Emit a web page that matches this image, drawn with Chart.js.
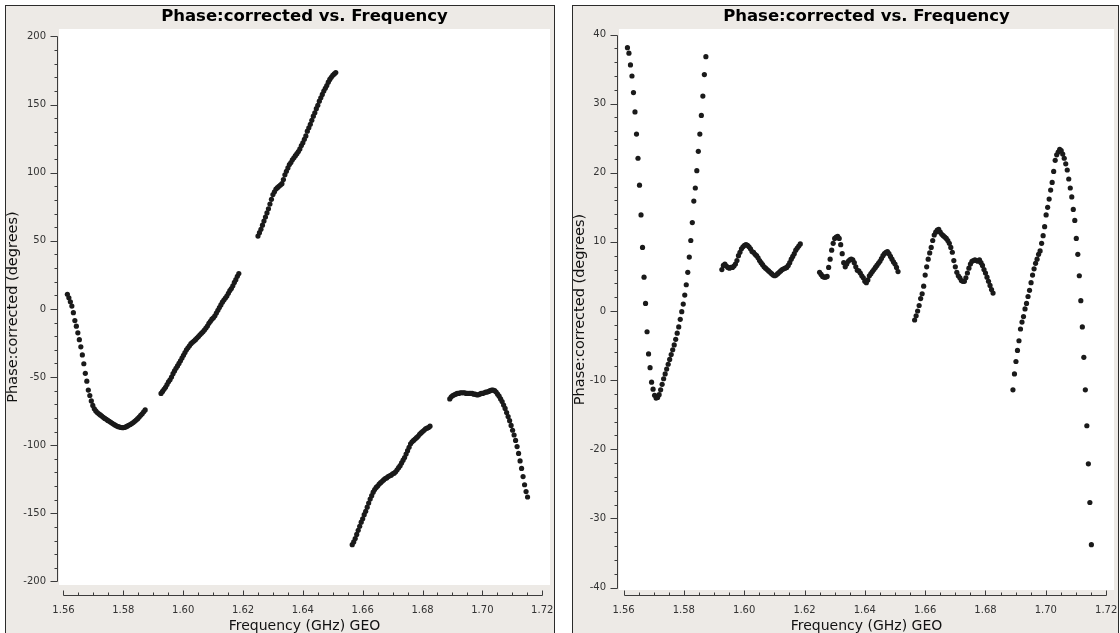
<!DOCTYPE html>
<html>
<head>
<meta charset="utf-8">
<title>Phase:corrected vs. Frequency</title>
<script src="https://cdn.jsdelivr.net/npm/chart.js@4/dist/chart.umd.min.js"></script>
<style>
  html, body { margin: 0; padding: 0; background: #fff; }
  body { width: 1120px; height: 633px; position: relative; overflow: hidden; }
  .panel { position: absolute; top: 5px; height: 627px; background: #edeae6;
           border: 1px solid #2b2b2b; border-bottom: none; overflow: hidden; }
  #panelA { left: 5px; width: 548px; }
  #panelB { left: 572px; width: 545px; }
  .panel canvas { display: block; }
</style>
</head>
<body>
<div class="panel" id="panelA"><canvas id="phaseA" width="548" height="627"></canvas></div>
<div class="panel" id="panelB"><canvas id="phaseB" width="545" height="627"></canvas></div>
<script>
// channel frequencies (GHz), one array per spectral window
const freq0 = [1.5613,1.5618,1.5623,1.5628,1.5633,1.5638,1.5643,1.5648,1.5653,1.5658,1.5663,1.5668,1.5673,1.5678,1.5683,1.5688,1.5693,1.5698,1.5703,1.5708,1.5713,1.5718,1.5723,1.5728,1.5733,1.5738,1.5743,1.5748,1.5753,1.5758,1.5763,1.5768,1.5773,1.5778,1.5783,1.5788,1.5793,1.5798,1.5803,1.5808,1.5813,1.5818,1.5823,1.5828,1.5833,1.5838,1.5843,1.5848,1.5853,1.5858,1.5863,1.5868,1.5873];
const freq1 = [1.5926,1.5931,1.5936,1.5941,1.5946,1.5951,1.5956,1.5961,1.5966,1.5971,1.5976,1.5981,1.5986,1.5991,1.5996,1.6001,1.6006,1.6011,1.6016,1.6021,1.6026,1.6031,1.6036,1.6041,1.6046,1.6051,1.6056,1.6061,1.6066,1.6071,1.6076,1.6081,1.6086,1.6091,1.6096,1.6101,1.6106,1.6111,1.6116,1.6121,1.6126,1.6131,1.6136,1.6141,1.6146,1.6151,1.6156,1.6161,1.6166,1.6171,1.6176,1.6181,1.6186];
const freq2 = [1.6250,1.6255,1.6260,1.6265,1.6270,1.6275,1.6280,1.6285,1.6290,1.6295,1.6300,1.6305,1.6310,1.6315,1.6320,1.6325,1.6330,1.6335,1.6340,1.6345,1.6350,1.6355,1.6360,1.6365,1.6370,1.6375,1.6380,1.6385,1.6390,1.6395,1.6400,1.6405,1.6410,1.6415,1.6420,1.6425,1.6430,1.6435,1.6440,1.6445,1.6450,1.6455,1.6460,1.6465,1.6470,1.6475,1.6480,1.6485,1.6490,1.6495,1.6500,1.6505,1.6510];
const freq3 = [1.6565,1.6570,1.6575,1.6580,1.6585,1.6590,1.6595,1.6600,1.6605,1.6610,1.6615,1.6620,1.6625,1.6630,1.6635,1.6640,1.6645,1.6650,1.6655,1.6660,1.6665,1.6670,1.6675,1.6680,1.6685,1.6690,1.6695,1.6700,1.6705,1.6710,1.6715,1.6720,1.6725,1.6730,1.6735,1.6740,1.6745,1.6750,1.6755,1.6760,1.6765,1.6770,1.6775,1.6780,1.6785,1.6790,1.6795,1.6800,1.6805,1.6810,1.6815,1.6820,1.6825];
const freq4 = [1.6891,1.6896,1.6901,1.6906,1.6911,1.6916,1.6921,1.6926,1.6931,1.6936,1.6941,1.6946,1.6951,1.6956,1.6961,1.6966,1.6971,1.6976,1.6981,1.6986,1.6991,1.6996,1.7001,1.7006,1.7011,1.7016,1.7021,1.7026,1.7031,1.7036,1.7041,1.7046,1.7051,1.7056,1.7061,1.7066,1.7071,1.7076,1.7081,1.7086,1.7091,1.7096,1.7101,1.7106,1.7111,1.7116,1.7121,1.7126,1.7131,1.7136,1.7141,1.7146,1.7151];

// corrected phase (degrees), left plot
const phaseA0 = [10.8,8.2,5.3,2.1,-2.7,-8.5,-12.6,-17.5,-22.5,-27.8,-33.7,-40.2,-47.2,-53,-59.5,-63.5,-67.5,-70.8,-73.3,-74.8,-76,-76.9,-77.8,-78.6,-79.5,-80.3,-81,-81.8,-82.5,-83.2,-83.9,-84.6,-85.3,-85.9,-86.4,-86.7,-87,-87.1,-87,-86.6,-86,-85.4,-84.8,-84.1,-83.4,-82.5,-81.5,-80.5,-79.3,-78,-76.9,-75.5,-74.1];
const phaseA1 = [-62,-60.5,-59,-57.5,-55.5,-53.5,-52,-50,-47.5,-45.5,-43.5,-41.8,-40,-38,-36,-34,-32,-30,-28.5,-27,-25.5,-24.5,-23.5,-22.5,-21.3,-20.2,-19,-17.8,-16.8,-15.5,-14,-12.5,-10.5,-9,-7.5,-6.5,-5,-3,-1,1,3,5,6.5,8,9.5,11.5,13.5,15,17,19.5,21.5,24,26];
const phaseA2 = [53.5,56,58.5,61.5,64.5,67.5,70.5,73.5,77,80.5,84,86,88,89,90,91,92,95,98.5,101,103.5,106,107.5,109.5,111,112.5,114,115.5,117.5,120,122,124.5,127,130.5,133,135.5,138.5,141.5,144,147,149.5,152.5,155,157.5,160,162,164,166.5,168.5,170,171.5,172.5,173.5];
const phaseA3 = [-173,-171,-168.5,-165.5,-162.5,-159.5,-156.5,-154,-151,-148.5,-145.5,-142.5,-139.5,-137,-134.5,-132.5,-131,-130,-128.5,-127.5,-126.5,-125.5,-124.5,-124,-123,-122.5,-122,-121,-120.5,-119.5,-118,-116.5,-115,-113,-111,-109,-106.5,-104,-101.5,-99,-97.5,-96.5,-95.5,-94.5,-93.5,-92,-91,-90,-89,-88,-87.5,-87,-86];
const phaseA4 = [-66,-64.5,-63.5,-63,-62.5,-62,-62,-61.5,-61.5,-61.5,-61.5,-62,-62,-62,-62,-62,-62.5,-62.5,-63,-63,-62.5,-62,-62,-61.5,-61,-61,-60.5,-60,-59.5,-59.5,-60,-61,-62.5,-64,-66,-68,-70.5,-73,-76,-79,-82,-85.5,-89,-92.5,-96.5,-101,-106,-111.5,-117,-123,-129,-134,-138];

// corrected phase (degrees), right plot
const phaseB0 = [38.1,37.3,35.6,34.0,31.6,28.8,25.6,22.1,18.2,13.9,9.2,4.9,1.1,-3.0,-6.2,-8.2,-10.3,-11.3,-12.2,-12.6,-12.5,-12.1,-11.4,-10.6,-9.8,-9.1,-8.4,-7.7,-7.0,-6.3,-5.6,-4.9,-4.1,-3.2,-2.3,-1.2,-0.1,1.0,2.3,3.8,5.6,7.8,10.2,12.8,15.9,17.8,20.3,23.1,25.6,28.3,31.1,34.2,36.8];
const phaseB1 = [6.0,6.6,6.8,6.5,6.3,6.2,6.3,6.3,6.5,6.8,7.3,8.0,8.5,9.0,9.3,9.5,9.6,9.5,9.3,9.0,8.6,8.5,8.2,8.0,7.7,7.3,7.0,6.7,6.4,6.2,6.0,5.8,5.6,5.4,5.2,5.1,5.2,5.4,5.6,5.8,6.0,6.1,6.2,6.3,6.6,7.0,7.5,7.9,8.3,8.8,9.1,9.4,9.7];
const phaseB2 = [5.6,5.3,5.0,4.9,4.9,5.0,6.3,7.5,8.8,9.8,10.5,10.7,10.8,10.5,9.6,8.3,7.0,6.4,6.8,7.2,7.4,7.5,7.4,7.0,6.4,5.9,5.8,5.5,5.1,4.8,4.3,4.1,4.5,5.1,5.4,5.7,6.0,6.3,6.6,6.9,7.2,7.6,8.0,8.3,8.5,8.6,8.3,7.9,7.5,7.1,6.8,6.3,5.7];
const phaseB3 = [-1.3,-0.7,0.0,0.8,1.8,2.5,3.6,5.2,6.4,7.5,8.4,9.2,10.2,11.0,11.4,11.7,11.8,11.4,11.1,10.9,10.7,10.5,10.2,9.8,9.2,8.5,7.3,6.4,5.6,5.1,4.8,4.4,4.3,4.3,4.8,5.5,6.2,6.8,7.2,7.3,7.4,7.3,7.2,7.4,7.0,6.6,6.0,5.5,4.9,4.3,3.7,3.1,2.6];
const phaseB4 = [-11.4,-9.1,-7.3,-5.7,-4.3,-2.6,-1.6,-0.8,0.3,1.1,2.1,3.0,4.1,5.2,6.1,6.9,7.5,8.2,8.7,9.8,10.9,12.2,13.9,15.0,16.2,17.5,18.6,20.2,21.8,22.6,23.0,23.4,23.2,22.7,22.1,21.3,20.4,19.1,17.8,16.5,14.7,13.1,10.5,8.2,5.1,1.5,-2.3,-6.7,-11.4,-16.6,-22.1,-27.7,-33.8];

// axis labels
const xTicks = [1.56, 1.58, 1.60, 1.62, 1.64, 1.66, 1.68, 1.70, 1.72];
const yTicksA = [-200, -150, -100, -50, 0, 50, 100, 150, 200];
const yTicksB = [-40, -30, -20, -10, 0, 10, 20, 30, 40];

const freqs = [freq0, freq1, freq2, freq3, freq4];

function toPoints(phases) {
    const pts = [];
    freqs.forEach(function (f, s) {
        f.forEach(function (v, i) { pts.push({ x: v, y: phases[s][i] }); });
    });
    return pts;
}

// keep the plot field fixed: no extra room for overhanging end labels
function noOverhang(s) {
    s.paddingLeft = 0;
    s.paddingRight = 0;
    s.paddingTop = 0;
    s.paddingBottom = 0;
}

// white plot field plus plotms-style axes: ticks pointing outward,
// the frequency axis sits a little below the plot field
const plotAxes = {
    id: 'plotAxes',
    beforeDraw(chart) {
        const { ctx, chartArea: a } = chart;
        ctx.save();
        ctx.fillStyle = '#ffffff';
        ctx.fillRect(a.left, a.top, a.right - a.left, a.bottom - a.top);
        ctx.restore();
    },
    afterDraw(chart, args, opts) {
        const { ctx, chartArea: a, scales: { x, y } } = chart;
        ctx.save();
        ctx.strokeStyle = '#3c3c3c';
        ctx.lineWidth = 1;
        ctx.beginPath();

        const yt = opts.yTicks;
        const ax = Math.round(a.left) - 1.5;
        ctx.moveTo(ax, Math.round(y.getPixelForValue(yt[0])) + 0.5);
        ctx.lineTo(ax, Math.round(y.getPixelForValue(yt[yt.length - 1])) + 0.5);
        const ySteps = Math.round((yt[yt.length - 1] - yt[0]) / opts.yMinor);
        for (let i = 0; i <= ySteps; i++) {
            const py = Math.round(y.getPixelForValue(yt[0] + i * opts.yMinor)) + 0.5;
            const len = (i % opts.yPerMajor === 0) ? 7 : 3;
            ctx.moveTo(ax, py);
            ctx.lineTo(ax - len, py);
        }

        const ay = opts.xAxisY + 0.5;
        const x0 = Math.round(x.getPixelForValue(xTicks[0])) + 0.5;
        const x1 = Math.round(x.getPixelForValue(xTicks[xTicks.length - 1])) + 0.5;
        ctx.moveTo(x0, ay);
        ctx.lineTo(x1, ay);
        const xSteps = (xTicks.length - 1) * 4;
        const span = xTicks[xTicks.length - 1] - xTicks[0];
        for (let i = 0; i <= xSteps; i++) {
            const px = Math.round(x.getPixelForValue(xTicks[0] + span * i / xSteps)) + 0.5;
            const len = (i % 4 === 0) ? 5 : 3;
            ctx.moveTo(px, ay);
            ctx.lineTo(px, ay - len);
        }
        ctx.stroke();
        ctx.restore();
    }
};

function makePlot(id, phases, yTicks, yMin, yMax, yMinor, geom) {
    return new Chart(document.getElementById(id), {
        type: 'scatter',
        data: {
            datasets: [{
                data: toPoints(phases),
                backgroundColor: '#1a1a1a',
                borderWidth: 0,
                pointRadius: 2.6
            }]
        },
        options: {
            responsive: false,
            animation: false,
            events: [],
            layout: { padding: { left: 0, right: 1, top: 0, bottom: 0 } },
            plugins: {
                legend: { display: false },
                tooltip: { enabled: false },
                title: {
                    display: true,
                    fullSize: false,
                    text: 'Phase:corrected vs. Frequency',
                    color: '#000',
                    font: { family: 'DejaVu Sans', size: 16.5, weight: 'bold', lineHeight: 1.2 },
                    padding: { top: 1, bottom: 2.2 }
                },
                plotAxes: { yTicks: yTicks, yMinor: yMinor, yPerMajor: Math.round((yTicks[1] - yTicks[0]) / yMinor), xAxisY: geom.xAxisY }
            },
            scales: {
                x: {
                    type: 'linear',
                    min: 1.5585,
                    max: 1.7226,
                    grid: { display: false, drawTicks: false },
                    border: { display: false },
                    afterBuildTicks: s => { s.ticks = xTicks.map(v => ({ value: v })); },
                    afterFit: s => { s.height = geom.xAxisHeight; noOverhang(s); },
                    ticks: {
                        padding: geom.xLabelPad,
                        color: '#333',
                        font: { family: 'DejaVu Sans', size: 10 },
                        maxRotation: 0,
                        autoSkip: false,
                        callback: v => v.toFixed(2)
                    },
                    title: {
                        display: true,
                        text: 'Frequency (GHz) GEO',
                        color: '#111',
                        font: { family: 'DejaVu Sans', size: 14, lineHeight: 1 },
                        padding: { top: 0, bottom: 0 }
                    }
                },
                y: {
                    type: 'linear',
                    min: yMin,
                    max: yMax,
                    grid: { display: false, drawTicks: false },
                    border: { display: false },
                    afterBuildTicks: s => { s.ticks = yTicks.map(v => ({ value: v })); },
                    afterFit: s => { s.width = geom.yAxisWidth; noOverhang(s); },
                    ticks: {
                        padding: 13,
                        color: '#333',
                        font: { family: 'DejaVu Sans', size: 10 },
                        autoSkip: false
                    },
                    title: {
                        display: true,
                        text: 'Phase:corrected (degrees)',
                        color: '#111',
                        font: { family: 'DejaVu Sans', size: 14.5, lineHeight: 1 },
                        padding: { top: 0, bottom: 0 }
                    }
                }
            }
        },
        plugins: [plotAxes]
    });
}

makePlot('phaseA', [phaseA0, phaseA1, phaseA2, phaseA3, phaseA4], yTicksA, -202.6, 205.5, 10,
    { yAxisWidth: 53, xAxisHeight: 48, xLabelPad: 19, xAxisY: 589 });
makePlot('phaseB', [phaseB0, phaseB1, phaseB2, phaseB3, phaseB4], yTicksB, -40.36, 40.8, 2,
    { yAxisWidth: 46, xAxisHeight: 43, xLabelPad: 14, xAxisY: 589 });
</script>
</body>
</html>
